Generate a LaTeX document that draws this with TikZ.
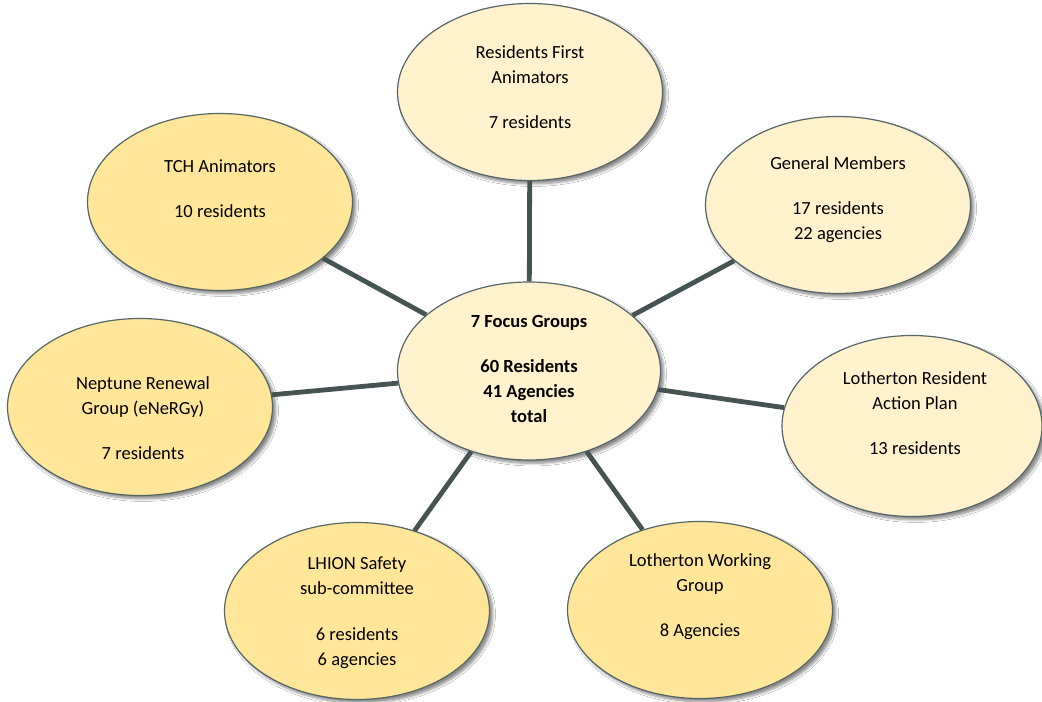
\documentclass[tikz,border=0pt]{standalone}
\usepackage{fontspec}
\setmainfont{Carlito}
\usetikzlibrary{shapes.geometric,shadows.blur}
\definecolor{lightgold}{HTML}{FFF2CC}
\definecolor{darkgold}{HTML}{FFE699}
\definecolor{edgegray}{HTML}{566565}
\definecolor{linkgray}{HTML}{465353}
\tikzset{
  ell/.style={ellipse, draw=edgegray, line width=0.9pt, inner sep=0pt,
    minimum width=265*0.75pt, minimum height=177*0.75pt,
    blur shadow={shadow blur steps=6, shadow xshift=2.5pt, shadow yshift=-2.5pt, shadow opacity=45, shadow blur extra rounding=1pt}},
  lightell/.style={ell, fill=lightgold},
  darkell/.style={ell, fill=darkgold},
  txt/.style={align=center, inner sep=0pt, font=\fontsize{13.9}{18.75}\selectfont},
  link/.style={draw=linkgray, line width=3.6pt}
}
\begin{document}
\begin{tikzpicture}[x=0.75pt,y=-0.75pt]
\useasboundingbox[fill=white] (0,0) rectangle (1042,702);
% ellipses
\node[lightell] (rf) at (530,92) {};
\node[darkell] (tch) at (220,202) {};
\node[lightell] (gm) at (838,205) {};
\node[lightell, minimum width=263*0.75pt, minimum height=178*0.75pt] (c) at (529,371) {};
\node[darkell] (nep) at (140,407) {};
\node[lightell, minimum width=260*0.75pt, minimum height=181*0.75pt] (lr) at (912,426) {};
\node[darkell] (lh) at (357,611) {};
\node[darkell] (wg) at (700,610) {};
% connectors
\draw[link] (c) -- (rf);
\draw[link] (c) -- (tch);
\draw[link] (c) -- (gm);
\draw[link] (c) -- (nep);
\draw[link] (c) -- (lr);
\draw[link] (c) -- (lh);
\draw[link] (c) -- (wg);
% texts
\node[txt] (rft) at (530,87.5) {Residents First\\Animators\\[15pt]7 residents};
\node[txt] (tcht) at (220,189) {TCH Animators\\[15pt]10 residents};
\node[txt] (gmt) at (838,200) {General Members\\[15pt]17 residents\\22 agencies};
\node[txt, font=\fontsize{13.9}{18.75}\selectfont\bfseries] (ct) at (529,369) {7 Focus Groups\\[15pt]60 Residents\\41 Agencies\\total};
\node[txt] (nept) at (143,418.5) {Neptune Renewal\\Group (eNeRGy)\\[15pt]7 residents};
\node[txt] (lrt) at (915,413.5) {Lotherton Resident\\Action Plan\\[15pt]13 residents};
\node[txt] (lht) at (357,612.5) {LHION Safety\\sub-committee\\[16pt]6 residents\\6 agencies};
\node[txt] (wgt) at (700,597) {Lotherton Working\\Group\\[15pt]8 Agencies};
\end{tikzpicture}
\end{document}
